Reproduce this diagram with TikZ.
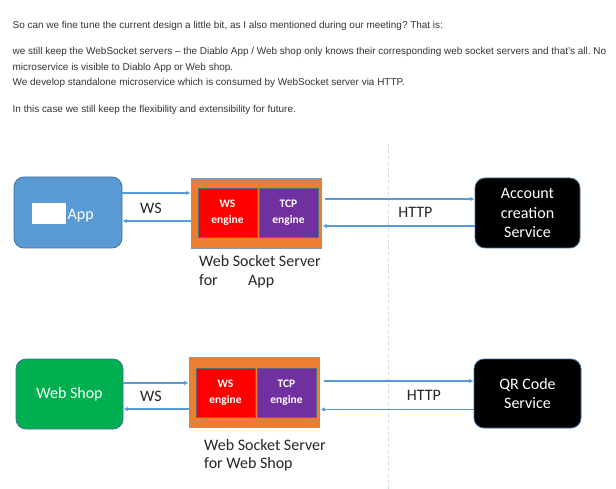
\documentclass[tikz,border=0pt]{standalone}
\usepackage{fontspec}
\setmainfont{Carlito}
\newfontfamily\mailfont[Ligatures=TeX]{Liberation Sans}
\usepackage{tikz}
\usetikzlibrary{arrows.meta}
\frenchspacing

\definecolor{mailgray}{HTML}{333333}
\definecolor{appblue}{HTML}{5B9BD5}
\definecolor{edgeblue}{HTML}{41719C}
\definecolor{shopgreen}{HTML}{00B050}
\definecolor{srvorange}{HTML}{ED7D31}
\definecolor{srvedge}{HTML}{8497B0}
\definecolor{tcppurple}{HTML}{7030A0}
\definecolor{arrowblue}{HTML}{5B9BD5}
\definecolor{splitblue}{HTML}{C5DCF0}

\tikzset{
	mailline/.style={anchor=base west, inner sep=0pt, text=mailgray, font=\mailfont\fontsize{9.95}{11}\selectfont},
	client/.style={draw=edgeblue, line width=0.8pt, rounded corners=10pt, minimum width=107pt, minimum height=70pt, text=white, font=\fontsize{16}{19.3}\selectfont, align=center},
	service/.style={client, fill=black, minimum width=106pt},
	wsserver/.style={draw=srvedge, line width=0.8pt, fill=srvorange, minimum width=130pt, minimum height=70pt},
	engine/.style={draw=srvedge!70!black, line width=0.6pt, minimum width=59pt, minimum height=49pt, inner sep=0pt, text=white, align=center, font=\bfseries\fontsize{11.5}{16}\selectfont},
	link/.style={draw=arrowblue, line width=1.2pt, -{Latex[length=4.5pt,width=4.5pt]}},
	tag/.style={anchor=base, inner sep=0pt, font=\fontsize{16}{19.3}\selectfont, text=black!85},
	caption/.style={anchor=base west, inner sep=0pt, font=\fontsize{16}{19.3}\selectfont, text=black!85}
}

\begin{document}
\begin{tikzpicture}[x=1pt,y=-1pt]
		\useasboundingbox[fill=white] (0,0) rectangle (616,489);
		\node[mailline] (l1) at (12.5,29) {So can we fine tune the current design a little bit, as I also mentioned during our meeting? That is:};
		\node[mailline] (l2) at (12.5,55) {we still keep the WebSocket servers – the Diablo App / Web shop only knows their corresponding web socket servers and that's all. No};
		\node[mailline] (l3) at (12.5,70.5) {microservice is visible to Diablo App or Web shop.};
		\node[mailline] (l4) at (12.5,86) {We develop standalone microservice which is consumed by WebSocket server via HTTP.};
		\node[mailline] (l5) at (12.5,112.5) {In this case we still keep the flexibility and extensibility for future.};
		\draw[splitblue, line width=1.5pt, dash pattern=on 3pt off 3pt] (388.5,144) -- (388.5,489);
		\node[client, fill=appblue, minimum width=108pt, minimum height=71pt] (app) at (68,212.5) {};
		\node[fill=white, inner sep=0pt, minimum width=34pt, minimum height=21pt] (mask) at (49,213.5) {};
		\node[anchor=base west, inner sep=0pt, text=white, font=\fontsize{16}{19.3}\selectfont] (applabel) at (67.5,219.3) {App};
		\node[wsserver] (srv1) at (256,213) {};
		\node[engine, fill=red] (ws1) at (227.5,212.5) {WS\\engine};
		\node[engine, fill=tcppurple] (tcp1) at (288.5,212.5) {TCP\\engine};
		\node[service, minimum width=105pt] (acc) at (527.5,213) {Account\\creation\\Service};
		\draw[link] ([yshift=19.5pt]app.east) -- ([yshift=19.5pt]app.east -| srv1.west);
		\draw[link] ([yshift=-8pt]srv1.west) -- ([yshift=-8pt]srv1.west -| app.east);
		\draw[link] ([xshift=4pt,yshift=14pt]srv1.east) -- ([yshift=14pt]srv1.east -| acc.west);
		\draw[link] ([yshift=-13pt]acc.west) -- ([xshift=1pt,yshift=-13pt]acc.west -| srv1.east);
		\node[tag] (ws1tag) at (151,213.3) {WS};
		\node[tag] (http1tag) at (415.5,217.3) {HTTP};
		\node[caption] (srv1cap) at (199,266) {Web Socket Server};
		\node[caption] (srv1for) at (199,286) {for};
		\node[caption] (srv1app) at (248,286) {App};
		\node[client, fill=shopgreen] (shop) at (69.5,394) {Web Shop};
		\node[wsserver] (srv2) at (254,392) {};
		\node[engine, fill=red] (ws2) at (225.5,392.5) {WS\\engine};
		\node[engine, fill=tcppurple] (tcp2) at (286.5,392.5) {TCP\\engine};
		\node[service, minimum height=69pt, minimum width=107pt] (qr) at (527.5,393.5) {QR Code\\Service};
		\draw[link] ([yshift=11pt]shop.east) -- ([yshift=11pt]shop.east -| srv2.west);
		\draw[link] ([yshift=-17pt]srv2.west) -- ([yshift=-17pt]srv2.west -| shop.east);
		\draw[link] ([xshift=5pt,yshift=11pt]srv2.east) -- ([yshift=11pt]srv2.east -| qr.west);
		\draw[link] ([yshift=-16pt]qr.west) -- ([xshift=1pt,yshift=-16pt]qr.west -| srv2.east);
		\node[tag] (ws2tag) at (151,401.7) {WS};
		\node[tag] (http2tag) at (424,400) {HTTP};
		\node[caption] (srv2cap) at (204,450) {Web Socket Server};
		\node[caption] (srv2for) at (204,468) {for Web Shop};
	\end{tikzpicture}
\end{document}
